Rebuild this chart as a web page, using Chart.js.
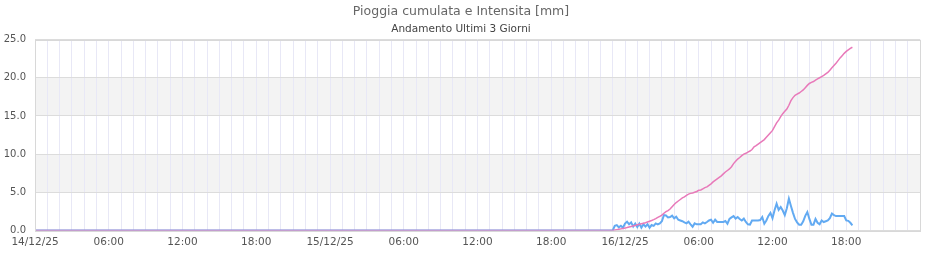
<!DOCTYPE html>
<html>
<head>
<meta charset="utf-8">
<script src="https://cdn.jsdelivr.net/npm/chart.js@4/dist/chart.umd.min.js"></script>
<style>
html,body{margin:0;padding:0;background:#fff;}
#wrap{width:940px;height:260px;position:relative;}
</style>
</head>
<body>
<div id="wrap"><canvas id="c" width="940" height="260"></canvas></div>
<script>
// Time axis: hours since 14/12/25 00:00
const axisStartDate = ['14/12/25', '15/12/25', '16/12/25', '17/12/25'];
const rainStartHour = 47;        // 15/12 23:00
const sampleStepMinutes = 10;

// Cumulative rain [mm] (10-minute samples from rainStartHour)
const cumulata = [
  0, 0.05, 0.1, 0.15, 0.2, 0.25, 0.3, 0.37, 0.45, 0.5,
  0.6, 0.65, 0.75, 0.8, 0.88, 0.95, 1.0, 1.1, 1.2, 1.3,
  1.42, 1.55, 1.7, 1.85, 2.0, 2.25, 2.45, 2.6, 2.8, 3.1,
  3.4, 3.65, 3.85, 4.05, 4.25, 4.4, 4.6, 4.75, 4.85, 4.9,
  5.0, 5.1, 5.25, 5.3, 5.45, 5.6, 5.7, 5.9, 6.1, 6.35,
  6.55, 6.75, 6.95, 7.15, 7.4, 7.65, 7.85, 8.05, 8.35, 8.75,
  9.05, 9.35, 9.55, 9.8, 10.0, 10.1, 10.25, 10.4, 10.6, 10.95,
  11.1, 11.3, 11.5, 11.7, 11.9, 12.2, 12.5, 12.8, 13.1, 13.6,
  14.1, 14.45, 14.9, 15.3, 15.6, 15.9, 16.4, 17.0, 17.4, 17.7,
  17.85, 18.0, 18.2, 18.4, 18.7, 19.0, 19.25, 19.4, 19.5, 19.7,
  19.85, 20.0, 20.15, 20.3, 20.5, 20.7, 21.0, 21.3, 21.6, 21.9,
  22.25, 22.6, 22.9, 23.2, 23.45, 23.65, 23.85, 24.0
];

// Intensity (10-minute samples from rainStartHour)
const intensita = [
  0, 0.6, 0.7, 0.4, 0.6, 0.35, 0.9, 1.15, 0.8, 1.05,
  0.5, 0.9, 0.45, 0.9, 0.35, 0.8, 0.5, 0.8, 0.35, 0.7,
  0.6, 0.92, 0.8, 0.92, 1.2, 2.0, 1.95, 1.7, 1.75, 1.93,
  1.58, 1.8, 1.4, 1.3, 1.2, 1.05, 0.92, 1.14, 0.8, 0.48,
  0.92, 0.8, 0.8, 0.8, 1.05, 0.92, 1.1, 1.3, 1.4, 1.0,
  1.4, 1.1, 1.1, 1.1, 1.1, 1.23, 0.87, 1.5, 1.7, 1.88,
  1.54, 1.75, 1.5, 1.3, 1.54, 1.1, 0.8, 0.75, 1.3, 1.3,
  1.3, 1.3, 1.35, 1.75, 0.88, 1.3, 1.9, 2.3, 1.6, 2.65,
  3.5, 2.7, 3.05, 2.6, 2.0, 2.9, 4.15, 3.2, 2.3, 1.5,
  1.05, 0.75, 0.75, 1.2, 1.9, 2.4, 1.5, 0.75, 0.75, 1.5,
  1.0, 0.8, 1.3, 1.1, 1.2, 1.3, 1.6, 2.2, 2.0, 1.88,
  1.88, 1.88, 1.88, 1.88, 1.3, 1.25, 1.0, 0.66
];

const yTicks = [0, 5, 10, 15, 20, 25];

function series(vals) {
  const pts = [{x: 0, y: 0}];
  vals.forEach((v, i) => pts.push({x: rainStartHour + i * sampleStepMinutes / 60, y: v}));
  return pts;
}

function xLabel(h) {
  if (h % 6 !== 0 || h >= 72) return '';
  const d = Math.floor(h / 24), hh = h % 24;
  if (hh === 0) return axisStartDate[d];
  return String(hh).padStart(2, '0') + ':00';
}

const bands = {
  id: 'bands',
  beforeDraw(chart) {
    const {ctx, chartArea: a, scales: {y}} = chart;
    ctx.save();
    ctx.fillStyle = '#f3f3f3';
    for (let i = 1; i < yTicks.length - 1; i += 2) {
      const t = y.getPixelForValue(yTicks[i + 1]);
      const b = y.getPixelForValue(yTicks[i]);
      ctx.fillRect(a.left, t, a.right - a.left, b - t);
    }
    ctx.restore();
  },
  afterDatasetsDraw(chart) {
    const {ctx, chartArea: a} = chart;
    ctx.save();
    ctx.strokeStyle = '#d8d8d8';
    ctx.lineWidth = 1;
    ctx.strokeRect(Math.round(a.left) + 0.5, Math.round(a.top) + 0.5, Math.round(a.right - a.left), Math.round(a.bottom - a.top));
    ctx.restore();
  }
};

new Chart(document.getElementById('c'), {
  type: 'line',
  data: {
    datasets: [
      {
        label: 'Cumulata',
        data: series(cumulata),
        borderColor: '#e879b9',
        borderWidth: 1.5,
        pointRadius: 0,
        tension: 0,
        fill: false
      },
      {
        label: 'Intensita',
        data: series(intensita),
        borderColor: '#62aaf2',
        borderWidth: 2,
        pointRadius: 0,
        tension: 0,
        fill: false
      }
    ]
  },
  options: {
    responsive: false,
    animation: false,
    layout: {padding: {left: 2, right: 20, top: 2, bottom: 5}},
    plugins: {
      legend: {display: false},
      tooltip: {enabled: false},
      title: {
        display: true,
        text: 'Pioggia cumulata e Intensita [mm]',
        color: '#666',
        font: {family: 'DejaVu Sans', size: 12.5, weight: 'normal'},
        padding: {top: 2, bottom: 4}
      },
      subtitle: {
        display: true,
        text: 'Andamento Ultimi 3 Giorni',
        color: '#444',
        font: {family: 'DejaVu Sans', size: 10.5, weight: 'normal'},
        padding: {top: 0, bottom: 4}
      }
    },
    scales: {
      x: {
        type: 'linear',
        min: 0,
        max: 72,
        grid: {color: '#e8e8f6', drawTicks: false},
        border: {display: false},
        ticks: {
          stepSize: 1,
          autoSkip: false,
          maxRotation: 0,
          padding: 6,
          color: '#555',
          font: {family: 'DejaVu Sans', size: 10.5},
          callback: (v) => xLabel(v)
        }
      },
      y: {
        min: 0,
        max: 25,
        afterFit: (s) => { s.width = 33; },
        grid: {color: '#dcdcdc', drawTicks: false},
        border: {display: false},
        ticks: {
          stepSize: 5,
          padding: 9,
          color: '#555',
          font: {family: 'DejaVu Sans', size: 10},
          callback: (v) => v.toFixed(1)
        }
      }
    }
  },
  plugins: [bands]
});
</script>
</body>
</html>
